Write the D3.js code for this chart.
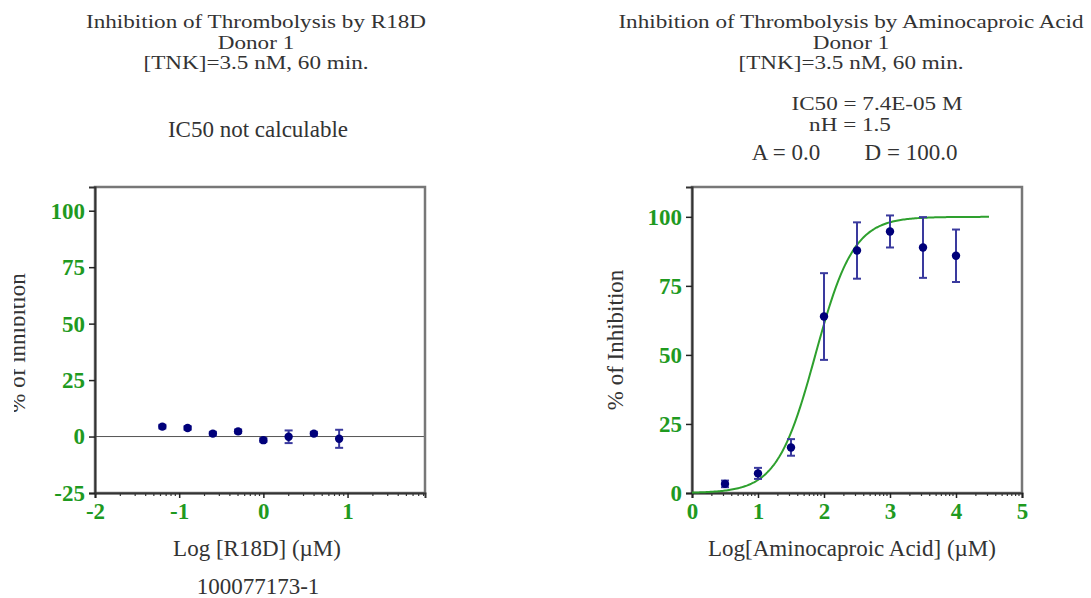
<!DOCTYPE html>
<html>
<head>
<meta charset="utf-8">
<script src="https://cdn.jsdelivr.net/npm/d3@7"></script>
<style>
  body { margin: 0; background: #fff; }
  svg text { font-family: "Liberation Serif", "DejaVu Serif", serif; }
</style>
</head>
<body>
<svg id="chart" width="1091" height="598"></svg>
<script>
// left panel: R18D
var r18dLogConc = [-1.2, -0.9, -0.6, -0.3, 0, 0.3, 0.6, 0.9];
var r18dInhib = [4.4, 3.8, 1.3, 2.3, -1.6, -0.1, 1.3, -1.0];
var r18dErr = [0.8, 0.8, 0.8, 0.8, 0.8, 2.8, 0.8, 4.0];
var r18dXTicks = [-2, -1, 0, 1];
var r18dYTicks = [-25, 0, 25, 50, 75, 100];

// right panel: aminocaproic acid
var acaLogConc = [0.5, 1, 1.5, 2, 2.5, 3, 3.5, 4];
var acaInhib = [3.3, 7.1, 16.5, 63.9, 87.8, 94.7, 88.9, 85.9];
var acaErr = [1.2, 2.0, 3.0, 15.7, 10.2, 5.8, 11.0, 9.5];
var acaXTicks = [0, 1, 2, 3, 4, 5];
var acaYTicks = [0, 25, 50, 75, 100];

// fit parameters shown on the chart
var fitIC50 = 7.4e-5; // M
var fitNH = 1.5;
var fitA = 0.0;
var fitD = 100.0;

var svg = d3.select("#chart");
var green = "#1f9a1f";
var navy = "#00007a";
var fs = 23;

svg.append("defs").append("clipPath").attr("id", "clipLeft")
  .append("rect").attr("x", 14).attr("y", 0).attr("width", 80).attr("height", 598);

function panel(opt) {
  var x = d3.scaleLinear().domain(opt.xDomain).range([opt.left, opt.right]);
  var y = d3.scaleLinear().domain(opt.yDomain).range([opt.bottom, opt.top]);
  var g = svg.append("g");

  // zero line
  if (opt.zeroLine) {
    g.append("line")
      .attr("x1", x.range()[0]).attr("x2", x.range()[1])
      .attr("y1", y(0)).attr("y2", y(0))
      .attr("stroke", "#555").attr("stroke-width", 1);
  }

  // frame
  g.append("rect")
    .attr("x", opt.left).attr("y", opt.top)
    .attr("width", opt.right - opt.left).attr("height", opt.bottom - opt.top)
    .attr("fill", "none").attr("stroke", "#777").attr("stroke-width", 2.5);

  // minor log ticks on x
  var minor = [];
  for (var k = Math.floor(opt.xDomain[0]); k < opt.xDomain[1]; k++) {
    for (var m = 2; m <= 9; m++) {
      var v = k + Math.log10(m);
      if (v < opt.xDomain[1]) minor.push(v);
    }
  }
  g.selectAll(".minor").data(minor).enter().append("line")
    .attr("x1", function(d){ return x(d); }).attr("x2", function(d){ return x(d); })
    .attr("y1", opt.bottom).attr("y2", opt.bottom + 3)
    .attr("stroke", "#333").attr("stroke-width", 1.2);

  var xAxis = g.append("g")
    .attr("transform", "translate(0," + opt.bottom + ")")
    .call(d3.axisBottom(x).tickValues(opt.xTicks).tickSize(5).tickPadding(5).tickFormat(function(d){ return String(d); }));
  var yAxis = g.append("g")
    .attr("transform", "translate(" + opt.left + ",0)")
    .call(d3.axisLeft(y).tickValues(opt.yTicks).tickSize(6).tickPadding(4).tickFormat(function(d){ return String(d); }));
  [xAxis, yAxis].forEach(function(a) {
    a.select(".domain").attr("stroke", "#333").attr("stroke-width", 2);
    a.selectAll(".tick line").attr("stroke", "#222").attr("stroke-width", 1.5);
    a.selectAll(".tick text")
      .attr("fill", green).attr("font-size", 23).attr("font-weight", "bold")
      .style("font-family", "'Liberation Serif', serif");
  });

  // fitted curve
  if (opt.curve) {
    var logIC50uM = Math.log10(opt.curve.ic50 * 1e6);
    var xs = d3.range(opt.curve.from, opt.curve.to + 0.001, 0.02);
    var line = d3.line()
      .x(function(d){ return x(d); })
      .y(function(d){
        return y(opt.curve.a + (opt.curve.d - opt.curve.a) / (1 + Math.pow(10, (logIC50uM - d) * opt.curve.nh)));
      });
    g.append("path").datum(xs)
      .attr("d", line).attr("fill", "none")
      .attr("stroke", "#2ea02e").attr("stroke-width", 2);
  }

  // error bars
  var pts = opt.xs.map(function(d, i){ return { x: d, y: opt.ys[i], e: opt.errs[i] }; });
  var eb = g.selectAll(".eb").data(pts).enter().append("g");
  eb.append("line")
    .attr("x1", function(d){ return x(d.x); }).attr("x2", function(d){ return x(d.x); })
    .attr("y1", function(d){ return y(d.y + d.e); }).attr("y2", function(d){ return y(d.y - d.e); })
    .attr("stroke", "#3a3a9e").attr("stroke-width", 2);
  [1, -1].forEach(function(s) {
    eb.append("line")
      .attr("x1", function(d){ return x(d.x) - 4; }).attr("x2", function(d){ return x(d.x) + 4; })
      .attr("y1", function(d){ return y(d.y + s * d.e); }).attr("y2", function(d){ return y(d.y + s * d.e); })
      .attr("stroke", "#3a3a9e").attr("stroke-width", 2);
  });
  g.selectAll(".pt").data(pts).enter().append("circle")
    .attr("cx", function(d){ return x(d.x); })
    .attr("cy", function(d){ return y(d.y); })
    .attr("r", 4.2).attr("fill", navy);

  // axis titles
  g.append("text")
    .attr("x", opt.xTitleX).attr("y", 556)
    .attr("text-anchor", "middle").attr("font-size", fs).attr("fill", "#333")
    .text(opt.xTitle);
  var holder = g.append("g");
  if (opt.clipYTitle) holder.attr("clip-path", "url(#clipLeft)");
  holder.append("text")
    .attr("transform", "translate(" + opt.yTitleX + "," + opt.yTitleY + ") rotate(-90)")
    .attr("text-anchor", "middle").attr("font-size", fs).attr("fill", "#333")
    .text(opt.yTitle);
  return g;
}

panel({
  left: 95, right: 425, top: 187, bottom: 493,
  xDomain: [-2, 1.92], yDomain: [-25, 110.5],
  xTicks: r18dXTicks, yTicks: r18dYTicks,
  xs: r18dLogConc, ys: r18dInhib, errs: r18dErr,
  zeroLine: true,
  xTitle: "Log [R18D] (\u00b5M)", xTitleX: 257,
  yTitle: "% of inhibition", yTitleX: 25, yTitleY: 343, clipYTitle: true
});

panel({
  left: 692, right: 1022, top: 187, bottom: 493,
  xDomain: [0, 5], yDomain: [0, 110.8],
  xTicks: acaXTicks, yTicks: acaYTicks,
  xs: acaLogConc, ys: acaInhib, errs: acaErr,
  curve: { ic50: fitIC50, nh: fitNH, a: fitA, d: fitD, from: 0, to: 4.5 },
  xTitle: "Log[Aminocaproic Acid] (\u00b5M)", xTitleX: 852,
  yTitle: "% of Inhibition", yTitleX: 623, yTitleY: 340
});

// plain text lines
function txt(x, y, s) {
  svg.append("text").attr("x", x).attr("y", y)
    .attr("text-anchor", "middle")
    .attr("font-size", fs).attr("fill", "#333").text(s);
}
// tightly stacked lines: shorter, wider glyphs as in the reference
function tight(x, y, s) {
  svg.append("text")
    .attr("transform", "translate(" + x + "," + y + ") scale(1.25,1)")
    .attr("text-anchor", "middle")
    .attr("font-size", 18.5).attr("fill", "#333").text(s);
}
tight(256, 28, "Inhibition of Thrombolysis by R18D");
tight(256, 48.5, "Donor 1");
tight(256, 69, "[TNK]=3.5 nM, 60 min.");
txt(258, 137, "IC50 not calculable");
txt(258, 594, "100077173-1");

tight(851, 28, "Inhibition of Thrombolysis by Aminocaproic Acid");
tight(851, 48.5, "Donor 1");
tight(851, 69, "[TNK]=3.5 nM, 60 min.");
tight(877, 110, "IC50 = " + d3.format(".1e")(fitIC50).replace("e-", "E-0") + " M");
tight(850, 130.5, "nH = " + fitNH.toFixed(1));
txt(786, 160, "A = " + fitA.toFixed(1));
txt(911, 160, "D = " + fitD.toFixed(1));
</script>
</body>
</html>
